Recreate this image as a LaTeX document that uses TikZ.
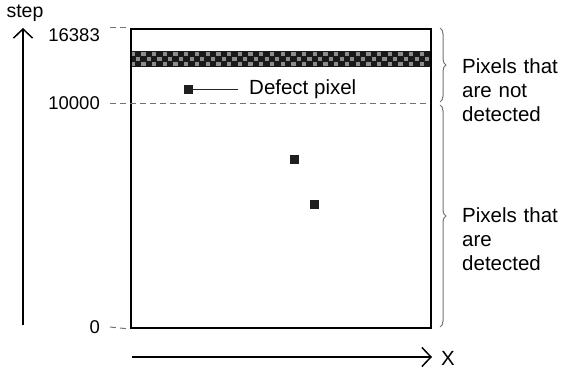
\documentclass[tikz,border=0pt]{standalone}
\usepackage{fontspec}
\setmainfont{Liberation Sans}
\usetikzlibrary{arrows.meta,decorations.pathreplacing}
\begin{document}
\begin{tikzpicture}[x=1pt,y=-1pt,
  lbl/.style={font=\fontsize{18.5}{22}\selectfont, inner sep=0pt},
  txt/.style={font=\fontsize{20.5}{24}\selectfont, inner sep=0pt},
  guide/.style={draw=black!55, line width=1pt, dash pattern=on 6pt off 4pt},
  axis/.style={line width=1.5pt, -{Straight Barb[length=9pt,width=19pt,line width=1.5pt]}},
  defect/.style={fill=black!88, draw=none, minimum size=9pt, inner sep=0pt},
  brc/.style={draw=black!55, line width=1pt, decorate, decoration={brace, amplitude=6pt}},
]
\useasboundingbox (0,0) rectangle (562,369);
% checkered band
\fill[black!90] (130,51) rectangle (430,67);
\foreach \r in {0,1,2}{
  \foreach \c in {0,...,55}{
    \pgfmathtruncatemacro{\myparity}{mod(\r+\c,2)}
    \ifnum\myparity=0
      \fill[gray!90] ({130+\c*5.357+0.6},{51+\r*5.333+0.6}) rectangle ++(4.2,4.1);
    \fi
  }
}
% main box
\node[draw, line width=2pt, minimum width=300pt, minimum height=299pt, inner sep=0pt, anchor=north west] (box) at (130,28) {};
% guides
\coordinate (g16a) at (110,28);
\coordinate (g10a) at (110,103);
\coordinate (g10b) at (430,103);
\coordinate (g0a) at (110,327);
\draw[guide] (g16a) -- (box.north west);
\draw[guide] (g10a) -- (g10b);
\draw[guide] (g0a) -- (box.south west);
% labels
\node[lbl, anchor=east] (l16) at (100,35) {16383};
\node[lbl, anchor=east] (l10) at (100,103) {10000};
\node[lbl, anchor=east] (l0) at (100,327) {0};
% axes
\coordinate (ya) at (23,325);
\coordinate (yb) at (23,28);
\draw[axis] (ya) -- (yb);
\node[lbl, font=\fontsize{19.5}{22}\selectfont] (step) at (25,13) {step};
\coordinate (xa) at (132,357);
\coordinate (xb) at (432,357);
\draw[axis] (xa) -- (xb);
\node[txt, anchor=west] (X) at (441,358) {X};
% defect pixels
\node[defect] (d1) at (188.5,89) {};
\node[defect] (d2) at (294,159) {};
\node[defect] (d3) at (314,204) {};
\node[txt, anchor=west, inner xsep=11pt] (dl) at (238,89) {Defect pixel};
\draw[line width=1pt, black!85] (d1.east) -- (dl.west);
% braces
\coordinate (b1a) at (440,28);
\coordinate (b1b) at (440,102);
\coordinate (b2a) at (440,105);
\coordinate (b2b) at (440,327);
\draw[brc] (b1a) -- (b1b);
\draw[brc] (b2a) -- (b2b);
\node[txt, anchor=north west, align=left, text width=100pt] (t1) at (462,58) {Pixels that\\are not\\detected};
\node[txt, anchor=north west, align=left, text width=100pt] (t2) at (462,207) {Pixels that\\are\\detected};
\end{tikzpicture}
\end{document}
